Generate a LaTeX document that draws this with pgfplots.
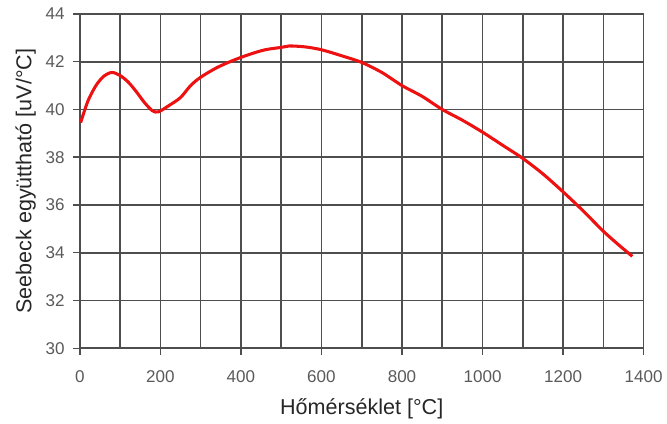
\documentclass[border=0pt]{standalone}
\usepackage{fontspec}
\setmainfont{Liberation Sans}
\usepackage{pgfplots}
\pgfplotsset{compat=1.18}
\definecolor{gridc}{HTML}{4E4E4E}
\definecolor{framec}{HTML}{A8A8A8}
\definecolor{tickc}{HTML}{5A5A5A}
\definecolor{curvec}{HTML}{EE1111}
\begin{document}
\begin{tikzpicture}
\begin{axis}[
  name=ax,
  scale only axis,
  width=423.75pt, height=251.25pt,
  xmin=0, xmax=1400, ymin=30, ymax=44,
  xtick={0,200,...,1200},
  minor xtick={100,300,...,1300},
  ytick={30,32,...,42},
  extra x ticks={1400},
  extra y ticks={44},
  extra tick style={grid style={framec, line width=1.1pt}},
  grid=both,
  major grid style={gridc, line width=1.2pt},
  minor grid style={gridc, line width=1.2pt},
  minor tick length=0pt,
  major tick length=5pt,
  tick align=outside,
  axis x line*=bottom, axis y line*=left,
  tick style={gridc, line width=1.1pt},
  axis line style={gridc, line width=1.2pt},
  /pgf/number format/assume math mode=true,
  /pgf/number format/1000 sep={},
  ticklabel style={font=\fontsize{12.8}{14}\selectfont, text=tickc},
  xticklabel style={yshift=-8pt},
  yticklabel style={xshift=-3pt},
  xlabel={Hőmérséklet [°C]},
  ylabel={Seebeck együttható [uV/°C]},
  label style={font=\fontsize{16.2}{18}\selectfont, text=black!85},
  xlabel style={yshift=4.5pt},
  ylabel style={yshift=-9.5pt},
]
\addplot[curvec, line width=2.3pt, smooth, tension=0.5] coordinates {
(2,39.45) (20,40.35) (40,41.0) (60,41.4) (80,41.55) (100,41.42) (120,41.15)
(140,40.75) (160,40.3) (180,39.95) (195,39.9) (220,40.15) (250,40.5)
(275,41.0) (300,41.35) (340,41.75) (380,42.05) (420,42.3) (460,42.5)
(500,42.6) (520,42.66) (560,42.62) (600,42.5) (650,42.25) (700,41.97)
(750,41.55) (800,41.0) (850,40.55) (900,40.0) (950,39.55) (1000,39.05)
(1050,38.5) (1100,37.95) (1150,37.3) (1200,36.55) (1250,35.75)
(1300,34.9) (1340,34.3) (1372,33.85)
};
\end{axis}
\path ([shift={(-60pt,-53.25pt)}]ax.south west) rectangle ([shift={(16.5pt,10.5pt)}]ax.north east);
\end{tikzpicture}
\end{document}
